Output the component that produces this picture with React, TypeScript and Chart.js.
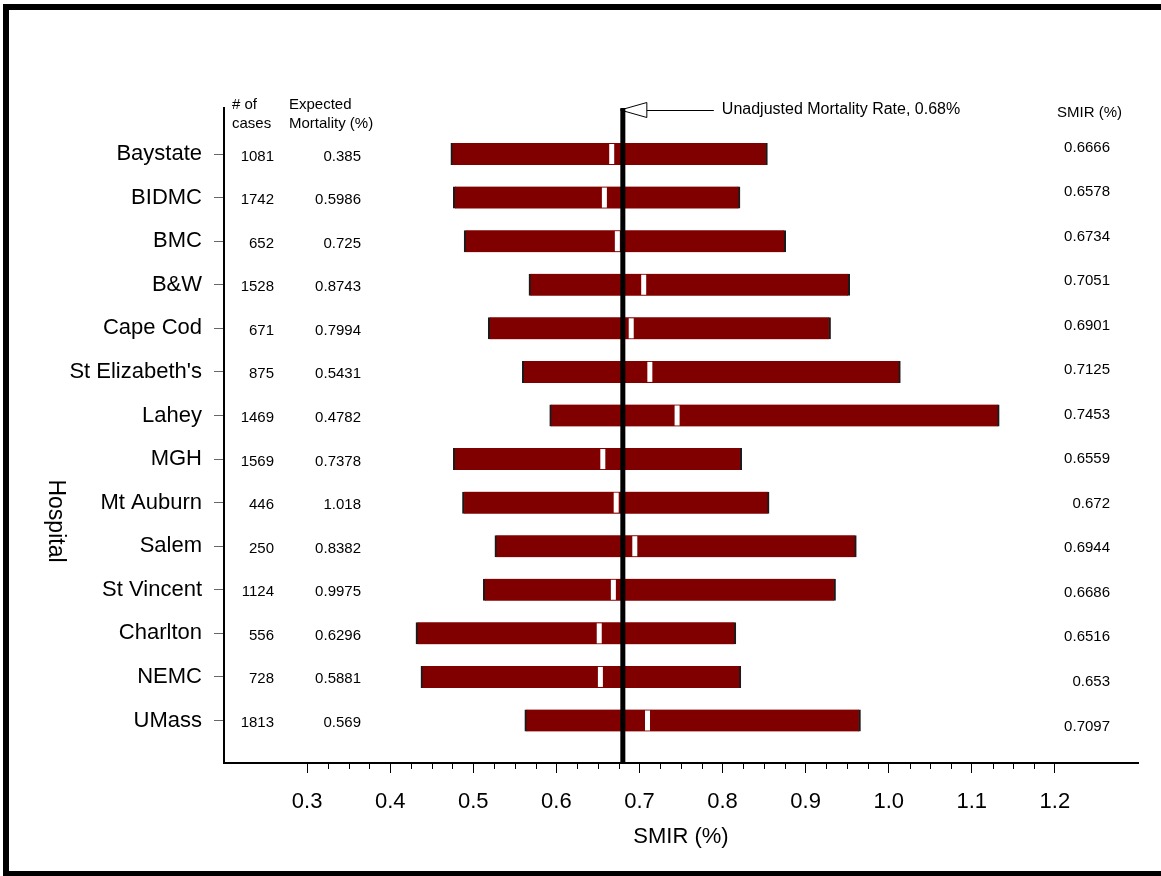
import { useEffect, useRef } from 'react';
import { Chart, registerables } from 'chart.js';

Chart.register(...registerables);

const HOSPITALS = ['Baystate', 'BIDMC', 'BMC', 'B&W', 'Cape Cod', "St Elizabeth's", 'Lahey', 'MGH', 'Mt Auburn', 'Salem', 'St Vincent', 'Charlton', 'NEMC', 'UMass'];
const CASES = [1081, 1742, 652, 1528, 671, 875, 1469, 1569, 446, 250, 1124, 556, 728, 1813];
const EXPECTED = [0.385, 0.5986, 0.725, 0.8743, 0.7994, 0.5431, 0.4782, 0.7378, 1.018, 0.8382, 0.9975, 0.6296, 0.5881, 0.569];
const SMIR = [0.6666, 0.6578, 0.6734, 0.7051, 0.6901, 0.7125, 0.7453, 0.6559, 0.672, 0.6944, 0.6686, 0.6516, 0.653, 0.7097];
const CI_LOW = [0.473, 0.476, 0.489, 0.567, 0.518, 0.559, 0.592, 0.476, 0.487, 0.526, 0.512, 0.431, 0.437, 0.562];
const CI_HIGH = [0.854, 0.821, 0.876, 0.953, 0.93, 1.014, 1.133, 0.823, 0.856, 0.961, 0.936, 0.816, 0.822, 0.966];
const UNADJUSTED_RATE = 0.68;
const X_TICKS = [0.3, 0.4, 0.5, 0.6, 0.7, 0.8, 0.9, 1.0, 1.1, 1.2];
const MINOR_STEP = 0.025;
const X_MIN = 0.2;
const X_MAX = 1.3;
const Y_MIN = -1.056;
const Y_MAX = 13.975;

const FONT = '"Liberation Sans", Arial, Helvetica, sans-serif';

const overlay = {
  id: 'overlay',
  beforeDraw(chart: any) {
    const ctx = chart.ctx;
    ctx.save();
    ctx.fillStyle = '#fff';
    ctx.fillRect(0, 0, chart.width, chart.height);
    ctx.fillStyle = '#000';
    ctx.fillRect(3, 4, 6, chart.height);
    ctx.fillRect(3, 4, chart.width, 6);
    ctx.fillRect(3, 871, chart.width, 6);
    ctx.restore();
  },
  afterDraw(chart: any) {
    const { ctx, chartArea } = chart;
    const x = chart.scales.x;
    const y = chart.scales.y;
    ctx.save();

    // minor ticks
    ctx.strokeStyle = '#000';
    ctx.lineWidth = 1;
    const first = X_TICKS[0];
    const last = X_TICKS[X_TICKS.length - 1];
    for (let k = 0; first + k * MINOR_STEP <= last + 1e-9; k++) {
      if (k % 4 === 0) continue;
      const px = Math.round(x.getPixelForValue(first + k * MINOR_STEP)) + 0.5;
      ctx.beginPath();
      ctx.moveTo(px, chartArea.bottom);
      ctx.lineTo(px, chartArea.bottom + 6);
      ctx.stroke();
    }

    // arrow + unadjusted line
    const lx = x.getPixelForValue(UNADJUSTED_RATE);
    const ay = chartArea.top + 2;
    ctx.beginPath();
    ctx.moveTo(lx - 2.5, ay);
    ctx.lineTo(lx + 24, ay - 7.5);
    ctx.lineTo(lx + 24, ay + 7.5);
    ctx.closePath();
    ctx.fillStyle = '#fff';
    ctx.fill();
    ctx.strokeStyle = '#000';
    ctx.lineWidth = 1;
    ctx.stroke();
    ctx.beginPath();
    ctx.moveTo(lx + 24, ay + 0.5);
    ctx.lineTo(lx + 91, ay + 0.5);
    ctx.stroke();
    ctx.fillStyle = '#000';
    ctx.fillRect(lx - 2.5, chartArea.top, 5, chartArea.bottom - chartArea.top);

    ctx.font = `16px ${FONT}`;
    ctx.textAlign = 'left';
    ctx.textBaseline = 'alphabetic';
    ctx.fillText('Unadjusted Mortality Rate, 0.68%', lx + 99, ay + 3.5);

    // left column headers
    ctx.font = `15px ${FONT}`;
    ctx.fillText('# of', 232, 109);
    ctx.fillText('cases', 232, 127.5);
    ctx.fillText('Expected', 289, 109);
    ctx.fillText('Mortality (%)', 289, 127.5);
    ctx.fillText('SMIR (%)', 1057, 117);

    // columns
    ctx.textAlign = 'right';
    HOSPITALS.forEach((_, i) => {
      const py = y.getPixelForValue(i);
      ctx.fillText(String(CASES[i]), 274, py + 6.5);
      ctx.fillText(String(EXPECTED[i]), 361, py + 6.5);
    });
    const p0 = y.getPixelForValue(0) - 8;
    const p1 = y.getPixelForValue(HOSPITALS.length - 1) + 4.5;
    SMIR.forEach((v, i) => {
      const py = p0 + ((p1 - p0) * i) / (SMIR.length - 1);
      ctx.fillText(String(v), 1110, py + 5.5);
    });

    // y axis title
    ctx.save();
    ctx.translate(55, 521);
    ctx.rotate(Math.PI / 2);
    ctx.font = `23px ${FONT}`;
    ctx.textAlign = 'center';
    ctx.textBaseline = 'middle';
    ctx.fillText('Hospital', 0, 0);
    ctx.restore();

    ctx.restore();
  },
};

export default function App() {
  const ref = useRef<HTMLCanvasElement>(null);
  useEffect(() => {
    if (!ref.current) return;
    Chart.defaults.font.family = FONT;
    const chart = new Chart(ref.current, {
      type: 'bar',
      data: {
        datasets: [
          {
            type: 'scatter',
            label: 'SMIR',
            data: SMIR.map((v, i) => ({ x: v, y: i })),
            pointStyle: 'line',
            rotation: 90,
            pointRadius: 10,
            pointHoverRadius: 10,
            borderColor: '#fff',
            backgroundColor: '#fff',
            borderWidth: 5,
            pointBorderWidth: 5,
            order: 1,
          } as any,
          {
            type: 'bar',
            label: 'CI',
            data: CI_LOW.map((lo, i) => ({ x: [lo, CI_HIGH[i]], y: i })),
            backgroundColor: '#800000',
            borderColor: '#1a1a1a',
            borderWidth: { left: 2, right: 2, top: 0, bottom: 0 },
            borderSkipped: false,
            barThickness: 22,
            order: 2,
          } as any,
        ],
      },
      options: {
        indexAxis: 'y',
        responsive: false,
        animation: false,
        layout: { padding: { left: 0, right: 23, top: 108, bottom: 0 } },
        plugins: { legend: { display: false }, tooltip: { enabled: false } },
        scales: {
          x: {
            type: 'linear',
            min: X_MIN,
            max: X_MAX,
            afterBuildTicks: (s: any) => {
              s.ticks = X_TICKS.map((v) => ({ value: v }));
            },
            afterFit: (s: any) => {
              s.height = 113;
            },
            ticks: {
              autoSkip: false,
              maxRotation: 0,
              padding: 16,
              color: '#000',
              font: { size: 22, family: FONT },
              callback: (v: any) => Number(v).toFixed(1),
            },
            grid: { display: true, drawOnChartArea: false, drawTicks: true, tickLength: 10, tickColor: '#000', tickWidth: 1 },
            border: { display: true, color: '#000', width: 2 },
            title: { display: true, text: 'SMIR (%)', color: '#000', font: { size: 22, family: FONT }, padding: { top: 0, bottom: 26 } },
          },
          y: {
            type: 'linear',
            min: Y_MIN,
            max: Y_MAX,
            reverse: true,
            offset: false,
            afterBuildTicks: (s: any) => {
              s.ticks = HOSPITALS.map((_, i) => ({ value: i }));
            },
            afterFit: (s: any) => {
              s.width = 224;
            },
            ticks: {
              autoSkip: false,
              padding: 12,
              color: '#000',
              font: { size: 22, family: FONT },
              callback: (v: any) => HOSPITALS[Math.round(Number(v))] ?? '',
            },
            grid: { display: true, offset: false, drawOnChartArea: false, drawTicks: true, tickLength: 10, tickColor: '#666', color: '#666' },
            border: { display: true, color: '#000', width: 2 },
          },
        },
      } as any,
      plugins: [overlay],
    });
    return () => chart.destroy();
  }, []);
  return (
    <div style={{ position: 'absolute', left: 0, top: 0, width: 1161, height: 876 }}>
      <canvas ref={ref} width={1161} height={876} style={{ display: 'block', width: 1161, height: 876 }} />
    </div>
  );
}
